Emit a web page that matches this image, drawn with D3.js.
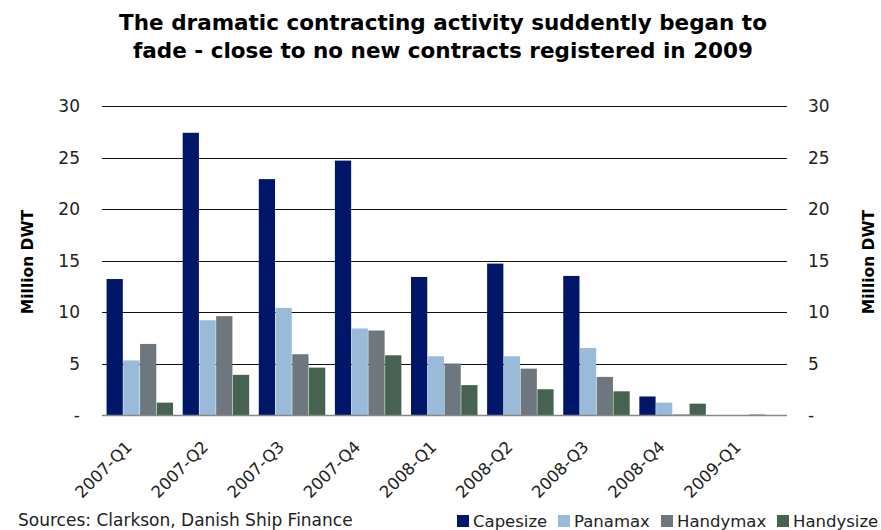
<!DOCTYPE html>
<html>
<head>
<meta charset="utf-8">
<script src="https://cdn.jsdelivr.net/npm/d3@7"></script>
<style>
  body { margin: 0; background: #fff; }
  text { font-family: "DejaVu Sans", Verdana, sans-serif; }
</style>
</head>
<body>
<div id="chart"></div>
<script>
// quarters and the four ship classes (million DWT contracted)
var quarters = ["2007-Q1","2007-Q2","2007-Q3","2007-Q4","2008-Q1","2008-Q2","2008-Q3","2008-Q4","2009-Q1"];
var series = ["Capesize","Panamax","Handymax","Handysize"];
var capesize  = [13.2, 27.4, 22.9, 24.7, 13.4, 14.7, 13.5, 1.8, 0];
var panamax   = [5.3, 9.2, 10.4, 8.4, 5.7, 5.7, 6.5, 1.2, 0];
var handymax  = [6.9, 9.6, 5.9, 8.2, 5.0, 4.5, 3.7, 0.05, 0.05];
var handysize = [1.2, 3.9, 4.6, 5.8, 2.9, 2.5, 2.3, 1.1, 0];
var yTicks = [0, 5, 10, 15, 20, 25, 30];

var values = [capesize, panamax, handymax, handysize];
var colors = ["#001769", "#99bbd9", "#6e767e", "#456350"];

var width = 881, height = 530;
var plotL = 102, plotR = 787, plotT = 106, plotB = 415;

var svg = d3.select("#chart").append("svg")
    .attr("width", width)
    .attr("height", height);

var x0 = d3.scaleBand()
    .domain(quarters)
    .range([plotL, plotR])
    .paddingInner(0.12)
    .paddingOuter(0.06);

var x1 = d3.scaleBand()
    .domain(series)
    .range([0, x0.bandwidth()]);

var y = d3.scaleLinear()
    .domain([0, 30])
    .range([plotB, plotT]);

// gridlines
svg.append("g").selectAll("line")
    .data(yTicks.filter(function(d){ return d > 0; }))
    .enter().append("line")
    .attr("x1", plotL).attr("x2", plotR)
    .attr("y1", function(d){ return Math.round(y(d)) + 0.5; })
    .attr("y2", function(d){ return Math.round(y(d)) + 0.5; })
    .attr("stroke", "#111")
    .attr("stroke-width", 1);

// bars
var groups = svg.append("g").selectAll("g")
    .data(quarters)
    .enter().append("g")
    .attr("transform", function(d){ return "translate(" + x0(d) + ",0)"; });

groups.selectAll("rect")
    .data(function(q, i){ return series.map(function(s, j){ return {s: s, v: values[j][i], c: colors[j]}; }); })
    .enter().append("rect")
    .attr("x", function(d){ return x1(d.s); })
    .attr("width", x1.bandwidth() - 0.5)
    .attr("y", function(d){ return y(d.v); })
    .attr("height", function(d){ return y(0) - y(d.v); })
    .attr("fill", function(d){ return d.c; });

// baseline
svg.append("line")
    .attr("x1", plotL).attr("x2", plotR)
    .attr("y1", Math.round(y(0)) + 0.5).attr("y2", Math.round(y(0)) + 0.5)
    .attr("stroke", "#888")
    .attr("stroke-width", 1.5);

var fmt = function(d){ return d === 0 ? "-" : d; };

// left axis labels
svg.append("g").selectAll("text")
    .data(yTicks)
    .enter().append("text")
    .attr("x", 80)
    .attr("y", function(d){ return y(d) + 6; })
    .attr("text-anchor", "end")
    .style("font-size", "17px")
    .attr("fill", "#222")
    .text(fmt);

// right axis labels
svg.append("g").selectAll("text")
    .data(yTicks)
    .enter().append("text")
    .attr("x", 808)
    .attr("y", function(d){ return y(d) + 6; })
    .attr("text-anchor", "start")
    .style("font-size", "17px")
    .attr("fill", "#222")
    .text(fmt);

// axis titles
svg.append("text")
    .attr("transform", "translate(33,262) rotate(-90)")
    .attr("text-anchor", "middle")
    .style("font-size", "15.5px").style("font-weight", "bold")
    .text("Million DWT");

svg.append("text")
    .attr("transform", "translate(874,262) rotate(-90)")
    .attr("text-anchor", "middle")
    .style("font-size", "15.5px").style("font-weight", "bold")
    .text("Million DWT");

// x labels
svg.append("g").selectAll("text")
    .data(quarters)
    .enter().append("text")
    .attr("transform", function(d){
        return "translate(" + (x0(d) + x0.bandwidth() / 2 - 7) + ",448) rotate(-45)";
    })
    .attr("text-anchor", "end")
    .style("font-size", "16.5px")
    .attr("fill", "#222")
    .text(function(d){ return d; });

// title
svg.append("text")
    .attr("x", 443).attr("y", 30)
    .attr("text-anchor", "middle")
    .style("font-size", "21.5px").style("font-weight", "bold")
    .text("The dramatic contracting activity suddently began to");
svg.append("text")
    .attr("x", 443).attr("y", 58)
    .attr("text-anchor", "middle")
    .style("font-size", "21.5px").style("font-weight", "bold")
    .text("fade - close to no new contracts registered in 2009");

// source
svg.append("text")
    .attr("x", 18).attr("y", 526)
    .style("font-size", "17px")
    .attr("fill", "#222")
    .text("Sources: Clarkson, Danish Ship Finance");

// legend
var legendX = [457, 558, 661, 777];
var legend = svg.append("g").selectAll("g")
    .data(series)
    .enter().append("g")
    .attr("transform", function(d, i){ return "translate(" + legendX[i] + ",515)"; });
legend.append("rect")
    .attr("width", 12).attr("height", 12)
    .attr("fill", function(d, i){ return colors[i]; });
legend.append("text")
    .attr("x", 16).attr("y", 12)
    .style("font-size", "16.5px")
    .attr("fill", "#222")
    .text(function(d){ return d; });
</script>
</body>
</html>
